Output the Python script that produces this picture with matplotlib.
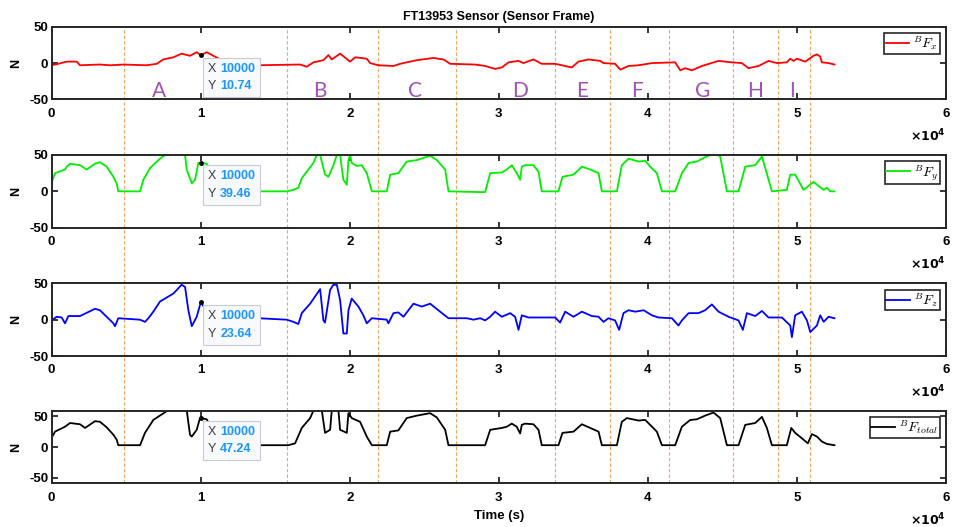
import matplotlib.pyplot as plt
from matplotlib.offsetbox import TextArea, HPacker, VPacker, AnnotationBbox

plt.rcParams['font.family'] = ['Liberation Sans', 'DejaVu Sans']
plt.rcParams['font.weight'] = 'bold'
plt.rcParams['axes.unicode_minus'] = False

# ---- data (time in samples, force in N) ----
fx_t = [0, 450, 1000, 1680, 1900, 3240, 3920, 4810, 6380, 7050, 7490, 8170, 8720, 9280, 9730,
        10000, 10400, 10850, 11500, 12000, 13870, 16670, 17110, 17560, 18230, 18570, 18790, 19350,
        20020, 20360, 21140, 21360, 21920, 22930, 23380, 24500, 25610, 26290, 26730, 28410, 29080,
        29750, 30200, 30650, 31320, 31650, 32320, 32880, 33780, 34450, 34900, 35340, 36010, 36800,
        37020, 37800, 38140, 38700, 39370, 40270, 41830, 42170, 42500, 42950, 43620, 44740, 45630,
        46300, 46750, 47420, 48090, 48650, 49320, 49550, 49770, 50000, 50560, 51110, 51340, 51560,
        51670, 52120, 52520]
fx = [-3, -1, 2, 2, -3, -2, -3, -2, -3, -1, 5, 8, 13, 10, 15,
      10.74, 15, 10, 3, -2, -3, -2, -5, 1, 4, 11, 5, 13,
      2, 8, 6, 0, -3, -4, -1, 4, 7, 5, -1, -2, -4,
      -8, -6, 1, 3, 0, 5, -1, -1, -4, -6, 2, 5, 3,
      0, -1, -9, -4, -3, 0, 1, -10, -7, -10, -4, 3, 1,
      0, -7, -4, 3, 0, 1, 6, 3, 6, 2, 10, 12, 9,
      1, 0, -2]

fy_t = [0, 224, 895, 1007, 1230, 1900, 2350, 2910, 3240, 3690, 4140, 4360, 4470, 5930, 6150,
        6600, 7270, 7610, 8000, 8500, 8950, 9060, 9400, 9620, 9840, 10000, 10400, 10800, 11200,
        11500, 15770, 16220, 16550, 16780, 17110, 17560, 17780, 17900, 18010, 18340, 18570, 18900,
        19130, 19250, 19350, 19570, 19800, 19910, 20020, 20130, 20470, 20800, 21140, 21480, 22480,
        22710, 23260, 23820, 24500, 25390, 25840, 26400, 26620, 28750, 29080, 29420, 30200, 30530,
        30870, 31200, 31430, 31540, 31760, 32320, 32660, 32880, 34000, 34270, 35010, 35570, 36130,
        36690, 36910, 37920, 38250, 38700, 39370, 39820, 40150, 40600, 40940, 41830, 42280, 42730,
        43280, 43840, 44400, 44600, 44850, 45300, 46080, 46530, 47200, 47650, 48320, 49320, 49550,
        49880, 50440, 51110, 51790, 52010, 52230, 52520]
fy = [12, 25, 30, 34, 38, 36, 30, 38, 40, 34, 20, 11, 0, 0, 16,
      32, 45, 50, 56, 58, 50, 30, 11, 16, 39, 39.46, 38, 25, 5,
      0, 0, 2, 5, 18, 27, 39, 50, 56, 50, 23, 20, 36,
      50, 55, 50, 16, 9, 43, 50, 39, 35, 36, 25, 0, 0,
      23, 25, 41, 43, 49, 43, 30, 0, -1, -1, 25, 26, 30,
      36, 25, 16, 34, 36, 36, 27, 0, 0, 20, 23, 34, 30,
      25, 0, 0, 36, 45, 41, 42, 34, 25, 0, 0, 25, 39,
      41, 47, 52, 51, 48, 0, 0, 34, 36, 48, 0, 2, 23,
      23, 2, 13, 2, 5, 0, 0]

fz_t = [0, 335, 670, 895, 1120, 1900, 2910, 3240, 4140, 4250, 4470, 5930, 6260, 6490, 6820,
        7270, 8170, 8720, 8950, 9170, 9400, 9730, 10000, 10500, 11000, 13870, 15770, 16220, 16550,
        16780, 17340, 18010, 18230, 18340, 18680, 18900, 19130, 19350, 19570, 19800, 19910, 20130,
        20580, 20910, 21140, 21480, 22480, 22590, 22930, 23260, 23600, 24270, 24830, 25390, 26060,
        26620, 27850, 28300, 28750, 29080, 29420, 29750, 30200, 30760, 31090, 31320, 31540, 31990,
        33780, 34110, 34450, 35010, 35570, 36240, 36690, 37020, 37360, 37800, 38070, 38360, 38700,
        39150, 39710, 40270, 40710, 41610, 42050, 42280, 42730, 43400, 43840, 44290, 44740, 45410,
        46080, 46370, 46640, 47200, 47650, 48090, 48990, 49550, 49660, 49880, 50330, 50670, 50890,
        51340, 51560, 51790, 52120, 52520]
fz = [-1, 4, 3, -5, 5, 5, 15, 13, -5, -9, 2, 0, -3, 2, 11,
      25, 36, 48, 45, 13, -9, 4, 23.64, 10, 2, 2, 0, -3, -6,
      9, 22, 42, -1, -4, 41, 48, 48, 27, -19, -19, 13, 29,
      18, 6, -5, 2, 0, -5, 9, 10, 4, 22, 18, 22, 11,
      2, 2, 0, 2, -1, 4, 11, 4, 9, 4, -14, 6, 3,
      3, -4, 11, 4, 11, 5, 4, -3, 2, -1, -14, 9, 13,
      11, 13, 6, 3, 2, -8, -1, 9, 9, 13, 21, 11, 4,
      -1, -14, 9, 5, 12, 3, 3, -8, -24, 6, 11, -1, -17,
      -8, 6, -3, 4, 2]

ft_t = [0, 224, 895, 1230, 1900, 2240, 2910, 3240, 3690, 4140, 4360, 4470, 5930, 6260, 6820,
        7830, 8300, 8720, 9060, 9280, 9400, 9730, 9950, 10000, 10400, 10800, 11200, 11500, 15880,
        16330, 16780, 17340, 17560, 17900, 18120, 18340, 18680, 18790, 19100, 19240, 19350, 19800,
        19910, 20130, 20690, 21140, 21480, 22480, 22710, 23260, 23820, 24500, 25390, 25840, 26400,
        26620, 28750, 29080, 29420, 30200, 30530, 30870, 31200, 31430, 31540, 31760, 32320, 32660,
        32880, 34000, 34270, 35010, 35570, 36130, 36690, 36910, 37920, 38250, 38590, 39370, 39820,
        40150, 40600, 40940, 41830, 42280, 42840, 43280, 43840, 44400, 44850, 45300, 46080, 46530,
        47200, 47650, 47980, 48320, 49320, 49620, 49880, 50440, 50730, 51000, 51340, 51670, 52010,
        52520]
ft = [15, 25, 33, 39, 37, 31, 42, 41, 32, 20, 12, 3, 3, 23, 44,
      60, 67, 65, 60, 20, 17, 28, 47, 47.24, 45, 28, 6, 3, 3,
      6, 31, 47, 59, 66, 60, 23, 28, 59, 66, 59, 28, 23,
      55, 47, 41, 17, 3, 3, 25, 27, 47, 51, 55, 48, 28,
      3, 3, 3, 28, 31, 33, 38, 33, 22, 36, 38, 37, 28,
      3, 3, 23, 25, 37, 31, 25, 3, 3, 41, 47, 43, 44,
      36, 25, 3, 3, 33, 44, 45, 51, 56, 47, 3, 3, 36,
      39, 49, 31, 3, 3, 31, 23, 12, 6, 21, 17, 9, 5,
      3]

series = [(fx_t, fx, '#FF0000', r'$^{B}F_x$', 10.74, 50),
          (fy_t, fy, '#00EE00', r'$^{B}F_y$', 39.46, 50),
          (fz_t, fz, '#0000FF', r'$^{B}F_z$', 23.64, 50),
          (ft_t, ft, '#000000', r'$^{B}F_{total}$', 47.24, 59)]

phase_lines = [4850, 15800, 21900, 27100, 33800, 37450, 41400, 45700, 48750, 50850]
phase_names = ['A', 'B', 'C', 'D', 'E', 'F', 'G', 'H', 'I']
phase_pos = [7230, 18000, 24380, 31430, 35610, 39260, 43690, 47160, 49660]

xticks = [0, 10000, 20000, 30000, 40000, 50000, 60000]
xticklabels = ['0', '1', '2', '3', '4', '5', '6']

fig = plt.figure(figsize=(9.55, 5.27), dpi=100)

left, width = 0.0541, 0.9365
tops = [0.9493, 0.7059, 0.4624, 0.2207]
h = 0.138
spine_col = '#262626'
tip_blue = '#1A96FF'

# dashed phase separators spanning all four panels
over = fig.add_axes([left, tops[3] - h, width, tops[0] - tops[3] + h], zorder=-1)
over.set_xlim(0, 60000)
over.set_ylim(0, 1)
over.axis('off')
for xv in phase_lines:
    over.axvline(xv, color='#F5A35C', lw=0.8, ls=(0, (3, 2)))

axes = []
for i, (t, v, col, lab, tip, lim) in enumerate(series):
    ax = fig.add_axes([left, tops[i] - h, width, h])
    ax.patch.set_alpha(0)
    ax.plot(t, v, color=col, lw=1.3, label=lab)
    ax.set_xlim(0, 60000)
    ax.set_ylim(-lim, lim)
    ax.set_xticks(xticks)
    ax.set_xticklabels(xticklabels)
    ax.set_yticks([-50, 0, 50])
    ax.tick_params(direction='in', top=True, right=True, length=4, width=1.3,
                   labelsize=9.5, color=spine_col)
    ax.tick_params(axis='x', pad=6)
    ax.tick_params(axis='y', pad=2.5)
    for s in ax.spines.values():
        s.set_linewidth(1.4)
        s.set_color(spine_col)
    ax.set_ylabel('N', fontsize=9, fontweight='bold')
    ax.yaxis.set_label_coords(-0.033, 0.5)
    ax.text(1.0, -0.5, r'$\times\mathbf{10^4}$', transform=ax.transAxes, ha='right',
            va='center', fontsize=9, math_fontfamily='dejavusans')
    leg = ax.legend(loc='upper right', prop=dict(size=10, math_fontfamily='cm'), handlelength=1.7,
                    handletextpad=0.3, borderpad=0.1, borderaxespad=0.45, fancybox=False,
                    edgecolor=spine_col, framealpha=1)
    leg.get_frame().set_linewidth(1.2)

    # data tip at x = 10000
    ax.plot([10000], [tip], 'o', color='black', ms=2.5, zorder=6)
    row1 = HPacker(children=[TextArea('X', textprops=dict(color='#3C3C3C', fontsize=9, fontweight='normal')),
                             TextArea('10000', textprops=dict(color=tip_blue, fontsize=9, fontweight='bold'))],
                   sep=3, align='baseline')
    row2 = HPacker(children=[TextArea('Y', textprops=dict(color='#3C3C3C', fontsize=9, fontweight='normal')),
                             TextArea(f'{tip:.2f}', textprops=dict(color=tip_blue, fontsize=9, fontweight='bold'))],
                   sep=3, align='baseline')
    box = VPacker(children=[row1, row2], sep=4, align='left')
    ab = AnnotationBbox(box, (10000, tip), xybox=(5, -5.5), boxcoords='offset points',
                        box_alignment=(0, 1), pad=0.35, zorder=7,
                        bboxprops=dict(facecolor='#F8F9FD', edgecolor='#C8CBD0', lw=0.8))
    ax.add_artist(ab)
    axes.append(ax)

axes[0].set_title('FT13953 Sensor (Sensor Frame)', fontsize=9, fontweight='bold', pad=5)
for name, xp in zip(phase_names, phase_pos):
    axes[0].text(xp, -39, name, color='#A052B4', fontsize=15, fontweight='normal',
                 family='Lato', ha='center', va='center')
axes[3].set_xlabel('Time (s)', fontsize=9.5, fontweight='bold')
axes[3].xaxis.set_label_coords(0.5, -0.36)

fig.savefig('out.png', dpi=100)
